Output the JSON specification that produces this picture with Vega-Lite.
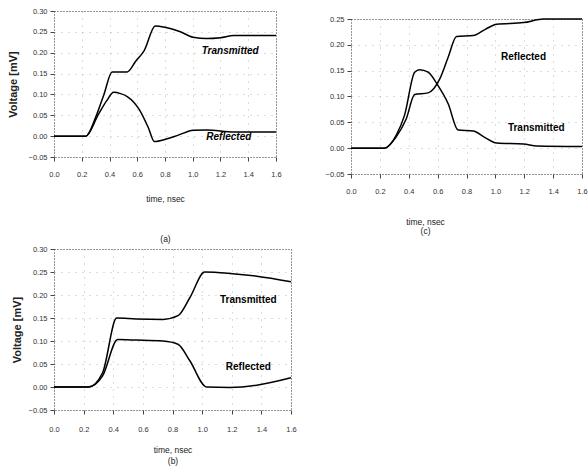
{
  "$schema": "https://vega.github.io/schema/vega-lite/v6.json",
  "background": "white",
  "padding": {"left": 6, "top": 6, "right": 0, "bottom": 0},
  "config": {
    "font": "Liberation Sans",
    "view": {"stroke": "#333", "strokeDash": [1, 2], "strokeWidth": 1},
    "axis": {
      "domain": false,
      "labelFontSize": 7.5,
      "labelColor": "#333",
      "labelOverlap": false,
      "labelFlush": false,
      "labelBound": false,
      "tickCount": 20,
      "tickColor": "#444",
      "tickSize": 4,
      "labelPadding": 3,
      "grid": true,
      "gridColor": "#888",
      "gridDash": [1, 6],
      "gridOpacity": 0.6,
      "titleFontSize": 8.5,
      "titleFontWeight": "normal",
      "titleColor": "#222"
    },
    "text": {"font": "Liberation Sans"}
  },
  "datasets": {
    "curves": [
      {"panel": "a", "series": "T", "t": 0, "v": 0},
      {"panel": "a", "series": "T", "t": 0.229, "v": 0},
      {"panel": "a", "series": "T", "t": 0.3, "v": 0.045},
      {"panel": "a", "series": "T", "t": 0.36, "v": 0.1},
      {"panel": "a", "series": "T", "t": 0.419, "v": 0.154},
      {"panel": "a", "series": "T", "t": 0.528, "v": 0.154},
      {"panel": "a", "series": "T", "t": 0.59, "v": 0.18},
      {"panel": "a", "series": "T", "t": 0.65, "v": 0.205},
      {"panel": "a", "series": "T", "t": 0.73, "v": 0.264},
      {"panel": "a", "series": "T", "t": 0.8, "v": 0.261},
      {"panel": "a", "series": "T", "t": 0.906, "v": 0.251},
      {"panel": "a", "series": "T", "t": 1.003, "v": 0.237},
      {"panel": "a", "series": "T", "t": 1.1, "v": 0.234},
      {"panel": "a", "series": "T", "t": 1.2, "v": 0.236},
      {"panel": "a", "series": "T", "t": 1.296, "v": 0.241},
      {"panel": "a", "series": "T", "t": 1.6, "v": 0.241},
      {"panel": "a", "series": "R", "t": 0, "v": 0},
      {"panel": "a", "series": "R", "t": 0.229, "v": 0},
      {"panel": "a", "series": "R", "t": 0.32, "v": 0.052},
      {"panel": "a", "series": "R", "t": 0.38, "v": 0.085},
      {"panel": "a", "series": "R", "t": 0.43, "v": 0.105},
      {"panel": "a", "series": "R", "t": 0.48, "v": 0.102},
      {"panel": "a", "series": "R", "t": 0.528, "v": 0.095},
      {"panel": "a", "series": "R", "t": 0.614, "v": 0.064},
      {"panel": "a", "series": "R", "t": 0.68, "v": 0.02},
      {"panel": "a", "series": "R", "t": 0.723, "v": -0.013},
      {"panel": "a", "series": "R", "t": 0.81, "v": -0.007},
      {"panel": "a", "series": "R", "t": 0.9, "v": 0.003},
      {"panel": "a", "series": "R", "t": 1.003, "v": 0.014},
      {"panel": "a", "series": "R", "t": 1.1, "v": 0.015},
      {"panel": "a", "series": "R", "t": 1.296, "v": 0.01},
      {"panel": "a", "series": "R", "t": 1.6, "v": 0.01},
      {"panel": "c", "series": "R", "t": 0, "v": 0},
      {"panel": "c", "series": "R", "t": 0.232, "v": 0},
      {"panel": "c", "series": "R", "t": 0.313, "v": 0.022},
      {"panel": "c", "series": "R", "t": 0.383, "v": 0.057},
      {"panel": "c", "series": "R", "t": 0.441, "v": 0.104},
      {"panel": "c", "series": "R", "t": 0.534, "v": 0.107},
      {"panel": "c", "series": "R", "t": 0.615, "v": 0.134},
      {"panel": "c", "series": "R", "t": 0.673, "v": 0.176},
      {"panel": "c", "series": "R", "t": 0.731, "v": 0.216},
      {"panel": "c", "series": "R", "t": 0.847, "v": 0.218},
      {"panel": "c", "series": "R", "t": 0.93, "v": 0.23},
      {"panel": "c", "series": "R", "t": 1.009, "v": 0.24},
      {"panel": "c", "series": "R", "t": 1.195, "v": 0.243},
      {"panel": "c", "series": "R", "t": 1.334, "v": 0.25},
      {"panel": "c", "series": "R", "t": 1.6, "v": 0.25},
      {"panel": "c", "series": "T", "t": 0, "v": 0},
      {"panel": "c", "series": "T", "t": 0.232, "v": 0},
      {"panel": "c", "series": "T", "t": 0.313, "v": 0.025},
      {"panel": "c", "series": "T", "t": 0.371, "v": 0.064},
      {"panel": "c", "series": "T", "t": 0.441, "v": 0.147},
      {"panel": "c", "series": "T", "t": 0.476, "v": 0.152},
      {"panel": "c", "series": "T", "t": 0.534, "v": 0.147},
      {"panel": "c", "series": "T", "t": 0.603, "v": 0.121},
      {"panel": "c", "series": "T", "t": 0.673, "v": 0.086},
      {"panel": "c", "series": "T", "t": 0.742, "v": 0.035},
      {"panel": "c", "series": "T", "t": 0.847, "v": 0.033},
      {"panel": "c", "series": "T", "t": 0.92, "v": 0.022},
      {"panel": "c", "series": "T", "t": 1.009, "v": 0.01},
      {"panel": "c", "series": "T", "t": 1.195, "v": 0.008},
      {"panel": "c", "series": "T", "t": 1.288, "v": 0.004},
      {"panel": "c", "series": "T", "t": 1.6, "v": 0.003},
      {"panel": "b", "series": "T", "t": 0, "v": 0},
      {"panel": "b", "series": "T", "t": 0.233, "v": 0},
      {"panel": "b", "series": "T", "t": 0.328, "v": 0.031},
      {"panel": "b", "series": "T", "t": 0.423, "v": 0.15},
      {"panel": "b", "series": "T", "t": 0.554, "v": 0.148},
      {"panel": "b", "series": "T", "t": 0.735, "v": 0.147},
      {"panel": "b", "series": "T", "t": 0.837, "v": 0.155},
      {"panel": "b", "series": "T", "t": 0.917, "v": 0.194},
      {"panel": "b", "series": "T", "t": 1.018, "v": 0.25},
      {"panel": "b", "series": "T", "t": 1.188, "v": 0.247},
      {"panel": "b", "series": "T", "t": 1.369, "v": 0.241},
      {"panel": "b", "series": "T", "t": 1.6, "v": 0.229},
      {"panel": "b", "series": "R", "t": 0, "v": 0},
      {"panel": "b", "series": "R", "t": 0.233, "v": 0},
      {"panel": "b", "series": "R", "t": 0.328, "v": 0.024},
      {"panel": "b", "series": "R", "t": 0.43, "v": 0.103},
      {"panel": "b", "series": "R", "t": 0.554, "v": 0.102},
      {"panel": "b", "series": "R", "t": 0.735, "v": 0.1},
      {"panel": "b", "series": "R", "t": 0.837, "v": 0.093},
      {"panel": "b", "series": "R", "t": 0.917, "v": 0.057},
      {"panel": "b", "series": "R", "t": 1.03, "v": 0},
      {"panel": "b", "series": "R", "t": 1.188, "v": -0.001},
      {"panel": "b", "series": "R", "t": 1.369, "v": 0.004},
      {"panel": "b", "series": "R", "t": 1.6, "v": 0.02}
    ],
    "labels": [
      {"panel": "a", "label": "Transmitted", "t": 1.27, "v": 0.204},
      {"panel": "a", "label": "Reflected", "t": 1.26, "v": -0.001},
      {"panel": "c", "label": "Reflected", "t": 1.195, "v": 0.176},
      {"panel": "c", "label": "Transmitted", "t": 1.283, "v": 0.039},
      {"panel": "b", "label": "Transmitted", "t": 1.312, "v": 0.189},
      {"panel": "b", "label": "Reflected", "t": 1.312, "v": 0.044}
    ]
  },
  "vconcat": [
    {
      "hconcat": [
        {
          "width": 222,
          "height": 146,
          "layer": [
            {
              "data": {"name": "curves"},
              "transform": [{"filter": "datum.panel == 'a'"}],
              "mark": {"type": "line", "color": "black", "strokeWidth": 1.5, "interpolate": "monotone"},
              "encoding": {
                "x": {"field": "t", "type": "quantitative", "scale": {"domain": [0, 1.6], "nice": false},
                  "axis": {"values": [0, 0.2, 0.4, 0.6, 0.8, 1.0, 1.2, 1.4, 1.6], "tickCount": 20, "format": ".1f", "labelPadding": 9, "titlePadding": 17,
                    "title": ["time, nsec", "(a)"], "titleLineHeight": 40}},
                "y": {"field": "v", "type": "quantitative", "scale": {"domain": [-0.05, 0.3], "nice": false},
                  "axis": {"values": [-0.05, 0, 0.05, 0.1, 0.15, 0.2, 0.25, 0.3], "tickCount": 20, "format": ".2f", "title": "Voltage [mV]",
                    "titleFontSize": 11, "titleFontWeight": "bold", "titlePadding": 10}},
                "detail": {"field": "series"}
              }
            },
            {
              "data": {"name": "labels"},
              "transform": [{"filter": "datum.panel == 'a'"}],
              "mark": {"type": "text", "fontWeight": "bold", "fontStyle": "italic", "fontSize": 10, "color": "black"},
              "encoding": {
                "x": {"field": "t", "type": "quantitative"},
                "y": {"field": "v", "type": "quantitative"},
                "text": {"field": "label"}
              }
            }
          ]
        },
        {
          "vconcat": [
            {
              "width": 231,
              "height": 1,
              "view": {"stroke": null},
              "data": {"values": []},
              "mark": "point",
              "encoding": {}
            },
            {
              "width": 231,
              "height": 155,
              "layer": [
                {
                  "data": {"name": "curves"},
                  "transform": [{"filter": "datum.panel == 'c'"}],
                  "mark": {"type": "line", "color": "black", "strokeWidth": 1.5, "interpolate": "monotone"},
                  "encoding": {
                    "x": {"field": "t", "type": "quantitative", "scale": {"domain": [0, 1.6], "nice": false},
                      "axis": {"values": [0, 0.2, 0.4, 0.6, 0.8, 1.0, 1.2, 1.4, 1.6], "tickCount": 20, "format": ".1f", "labelPadding": 9, "titlePadding": 24,
                        "title": ["time, nsec", "(c)"], "titleLineHeight": 9, "titleX": 74, "titleY": 43, "titleBaseline": "top"}},
                    "y": {"field": "v", "type": "quantitative", "scale": {"domain": [-0.05, 0.25], "nice": false},
                      "axis": {"values": [-0.05, 0, 0.05, 0.1, 0.15, 0.2, 0.25], "tickCount": 20, "format": ".2f", "title": null}},
                    "detail": {"field": "series"}
                  }
                },
                {
                  "data": {"name": "labels"},
                  "transform": [{"filter": "datum.panel == 'c'"}],
                  "mark": {"type": "text", "fontWeight": "bold", "fontSize": 10, "color": "black"},
                  "encoding": {
                    "x": {"field": "t", "type": "quantitative"},
                    "y": {"field": "v", "type": "quantitative"},
                    "text": {"field": "label"}
                  }
                }
              ]
            }
          ],
          "spacing": 2
        }
      ],
      "spacing": 42
    },
    {
      "width": 237,
      "height": 161,
      "layer": [
        {
          "data": {"name": "curves"},
          "transform": [{"filter": "datum.panel == 'b'"}],
          "mark": {"type": "line", "color": "black", "strokeWidth": 1.5, "interpolate": "monotone"},
          "encoding": {
            "x": {"field": "t", "type": "quantitative", "scale": {"domain": [0, 1.6], "nice": false},
              "axis": {"values": [0, 0.2, 0.4, 0.6, 0.8, 1.0, 1.2, 1.4, 1.6], "tickCount": 20, "format": ".1f", "labelPadding": 11, "titlePadding": 13,
                "title": ["time, nsec", "(b)"], "titleLineHeight": 11}},
            "y": {"field": "v", "type": "quantitative", "scale": {"domain": [-0.05, 0.3], "nice": false},
              "axis": {"values": [-0.05, 0, 0.05, 0.1, 0.15, 0.2, 0.25, 0.3], "tickCount": 20, "format": ".2f", "title": "Voltage [mV]",
                "titleFontSize": 11, "titleFontWeight": "bold", "titlePadding": 6}},
            "detail": {"field": "series"}
          }
        },
        {
          "data": {"name": "labels"},
          "transform": [{"filter": "datum.panel == 'b'"}],
          "mark": {"type": "text", "fontWeight": "bold", "fontSize": 10, "color": "black"},
          "encoding": {
            "x": {"field": "t", "type": "quantitative"},
            "y": {"field": "v", "type": "quantitative"},
            "text": {"field": "label"}
          }
        }
      ]
    }
  ],
  "spacing": 0
}
